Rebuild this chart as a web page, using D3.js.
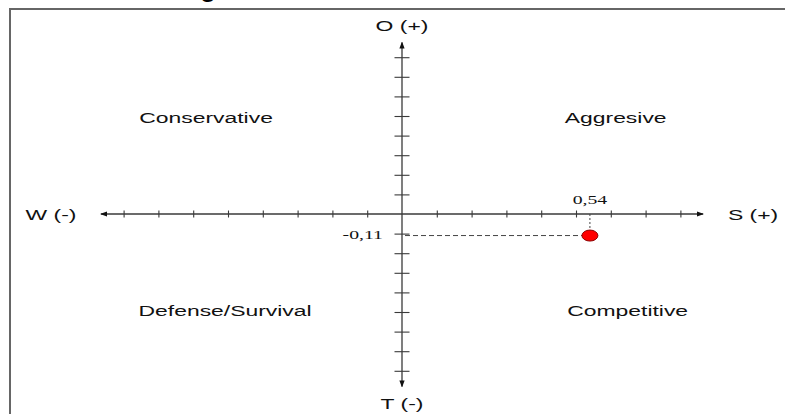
<!DOCTYPE html>
<html>
<head>
<meta charset="utf-8">
<script src="https://cdn.jsdelivr.net/npm/d3@7"></script>
<style>
  body { margin: 0; background: #fff; }
  svg { display: block; }
</style>
</head>
<body>
<div id="chart"></div>
<script>
// --- data ---
const quadrants = ["Aggresive", "Conservative", "Defense/Survival", "Competitive"];
const quadrantSigns = [[1, 1], [-1, 1], [-1, -1], [1, -1]];
const axisEndLabels = ["S (+)", "O (+)", "W (-)", "T (-)"];
const xTickValues = [-0.8, -0.7, -0.6, -0.5, -0.4, -0.3, -0.2, -0.1, 0.1, 0.2, 0.3, 0.4, 0.5, 0.6, 0.7, 0.8];
const yTickValues = [-0.8, -0.7, -0.6, -0.5, -0.4, -0.3, -0.2, -0.1, 0.1, 0.2, 0.3, 0.4, 0.5, 0.6, 0.7, 0.8];
const pointS = [0.54];
const pointO = [-0.11];
const pointLabelS = ["0,54"];
const pointLabelO = ["-0,11"];

// --- layout ---
const width = 785, height = 414;
const cx = 402, cy = 214;
const stretch = 1.58;   // the figure is stretched sideways, text too
const axisColor = "#3a3a3a";

const x = d3.scaleLinear().domain([-1, 1]).range([cx - 348, cx + 348]);
const y = d3.scaleLinear().domain([-1, 1]).range([cy + 196, cy - 196]);

const svg = d3.select("#chart").append("svg")
    .attr("width", width)
    .attr("height", height);

svg.append("defs").append("marker")
    .attr("id", "arrow")
    .attr("viewBox", "0 -3 7 6")
    .attr("refX", 6)
    .attr("refY", 0)
    .attr("markerWidth", 7)
    .attr("markerHeight", 6)
    .attr("markerUnits", "userSpaceOnUse")
    .attr("orient", "auto")
    .append("path")
    .attr("d", "M0,-2.6L7,0L0,2.6Z")
    .attr("fill", "#111");

// cut-off heading above the frame (only its descender shows in the reference)
svg.append("text")
    .attr("x", 208)
    .attr("y", -4)
    .attr("text-anchor", "middle")
    .style("font-family", "Liberation Sans, Arial, sans-serif")
    .style("font-size", "30px")
    .attr("fill", "#000")
    .text("g");

// frame
svg.append("path")
    .attr("d", `M10,${height}V9H${width}`)
    .attr("fill", "none")
    .attr("stroke", "#666")
    .attr("stroke-width", 2);

// main axis lines with arrows
svg.append("line")
    .attr("x1", x(0)).attr("x2", x(-0.865))
    .attr("y1", y(0)).attr("y2", y(0))
    .attr("stroke", axisColor).attr("stroke-width", 1.3)
    .attr("marker-end", "url(#arrow)");
svg.append("line")
    .attr("x1", x(0)).attr("x2", x(0.865))
    .attr("y1", y(0)).attr("y2", y(0))
    .attr("stroke", axisColor).attr("stroke-width", 1.3)
    .attr("marker-end", "url(#arrow)");
svg.append("line")
    .attr("x1", x(0)).attr("x2", x(0))
    .attr("y1", y(0)).attr("y2", y(0.875))
    .attr("stroke", axisColor).attr("stroke-width", 1.3)
    .attr("marker-end", "url(#arrow)");
svg.append("line")
    .attr("x1", x(0)).attr("x2", x(0))
    .attr("y1", y(0)).attr("y2", y(-0.88))
    .attr("stroke", axisColor).attr("stroke-width", 1.3)
    .attr("marker-end", "url(#arrow)");

// ticks (domain lines removed, the arrows above stand for them)
const xAxis = svg.append("g")
    .attr("transform", `translate(0,${y(0) - 3.5})`)
    .call(d3.axisBottom(x).tickValues(xTickValues).tickSize(7).tickFormat(""));
const yAxis = svg.append("g")
    .attr("transform", `translate(${x(0) - 7.5},0)`)
    .call(d3.axisRight(y).tickValues(yTickValues).tickSize(15).tickFormat(""));
[xAxis, yAxis].forEach(g => {
    g.select(".domain").remove();
    g.selectAll(".tick line").attr("stroke", axisColor).attr("stroke-width", 1.1);
});

// helper for the stretched labels
function label(txt, px, py, size, family, anchor) {
    svg.append("text")
        .attr("transform", `translate(${px},${py}) scale(${stretch},1)`)
        .attr("text-anchor", anchor || "middle")
        .style("font-family", family)
        .style("font-size", size + "px")
        .attr("fill", "#111")
        .text(txt);
}
const sans = "Liberation Sans, Arial, sans-serif";
const serif = "Liberation Serif, Times New Roman, serif";

// axis end labels: S, O, W, T
label(axisEndLabels[0], 753, cy + 6, 14.5, sans);
label(axisEndLabels[1], cx, 31, 14.5, sans);
label(axisEndLabels[2], 51, cy + 6, 14.5, sans);
label(axisEndLabels[3], cx, 409, 14.5, sans);

// quadrant names
const quadCenter = {x: [0.614, -0.563], y: [0.465, -0.52]};
quadrants.forEach((q, i) => {
    const [sx, sy] = quadrantSigns[i];
    const qx = sx > 0 ? quadCenter.x[0] : quadCenter.x[1];
    const qy = sy > 0 ? quadCenter.y[0] : quadCenter.y[1];
    label(q, x(qx) + (i === 2 ? 19 : i === 3 ? 12 : 0), y(qy), 14.5, sans);
});

// the company position
svg.append("line")
    .attr("x1", x(pointS[0])).attr("x2", x(pointS[0]))
    .attr("y1", y(0)).attr("y2", y(pointO[0]) - 5)
    .attr("stroke", "#444").attr("stroke-width", 1)
    .attr("stroke-dasharray", "2,2");
svg.append("line")
    .attr("x1", x(0) + 3).attr("x2", x(pointS[0]) - 8)
    .attr("y1", y(pointO[0])).attr("y2", y(pointO[0]))
    .attr("stroke", "#444").attr("stroke-width", 1)
    .attr("stroke-dasharray", "5,3");

svg.selectAll("ellipse.pt")
    .data(pointS)
    .join("ellipse")
    .attr("class", "pt")
    .attr("cx", d => x(d))
    .attr("cy", (d, i) => y(pointO[i]))
    .attr("rx", 8)
    .attr("ry", 5.5)
    .attr("fill", "#ff0000")
    .attr("stroke", "#8b0000")
    .attr("stroke-width", 1);

label(pointLabelS[0], x(pointS[0]), y(0) - 10, 12.5, serif);
label(pointLabelO[0], x(0) - 19, y(pointO[0]) + 3, 12.5, serif, "end");
</script>
</body>
</html>
